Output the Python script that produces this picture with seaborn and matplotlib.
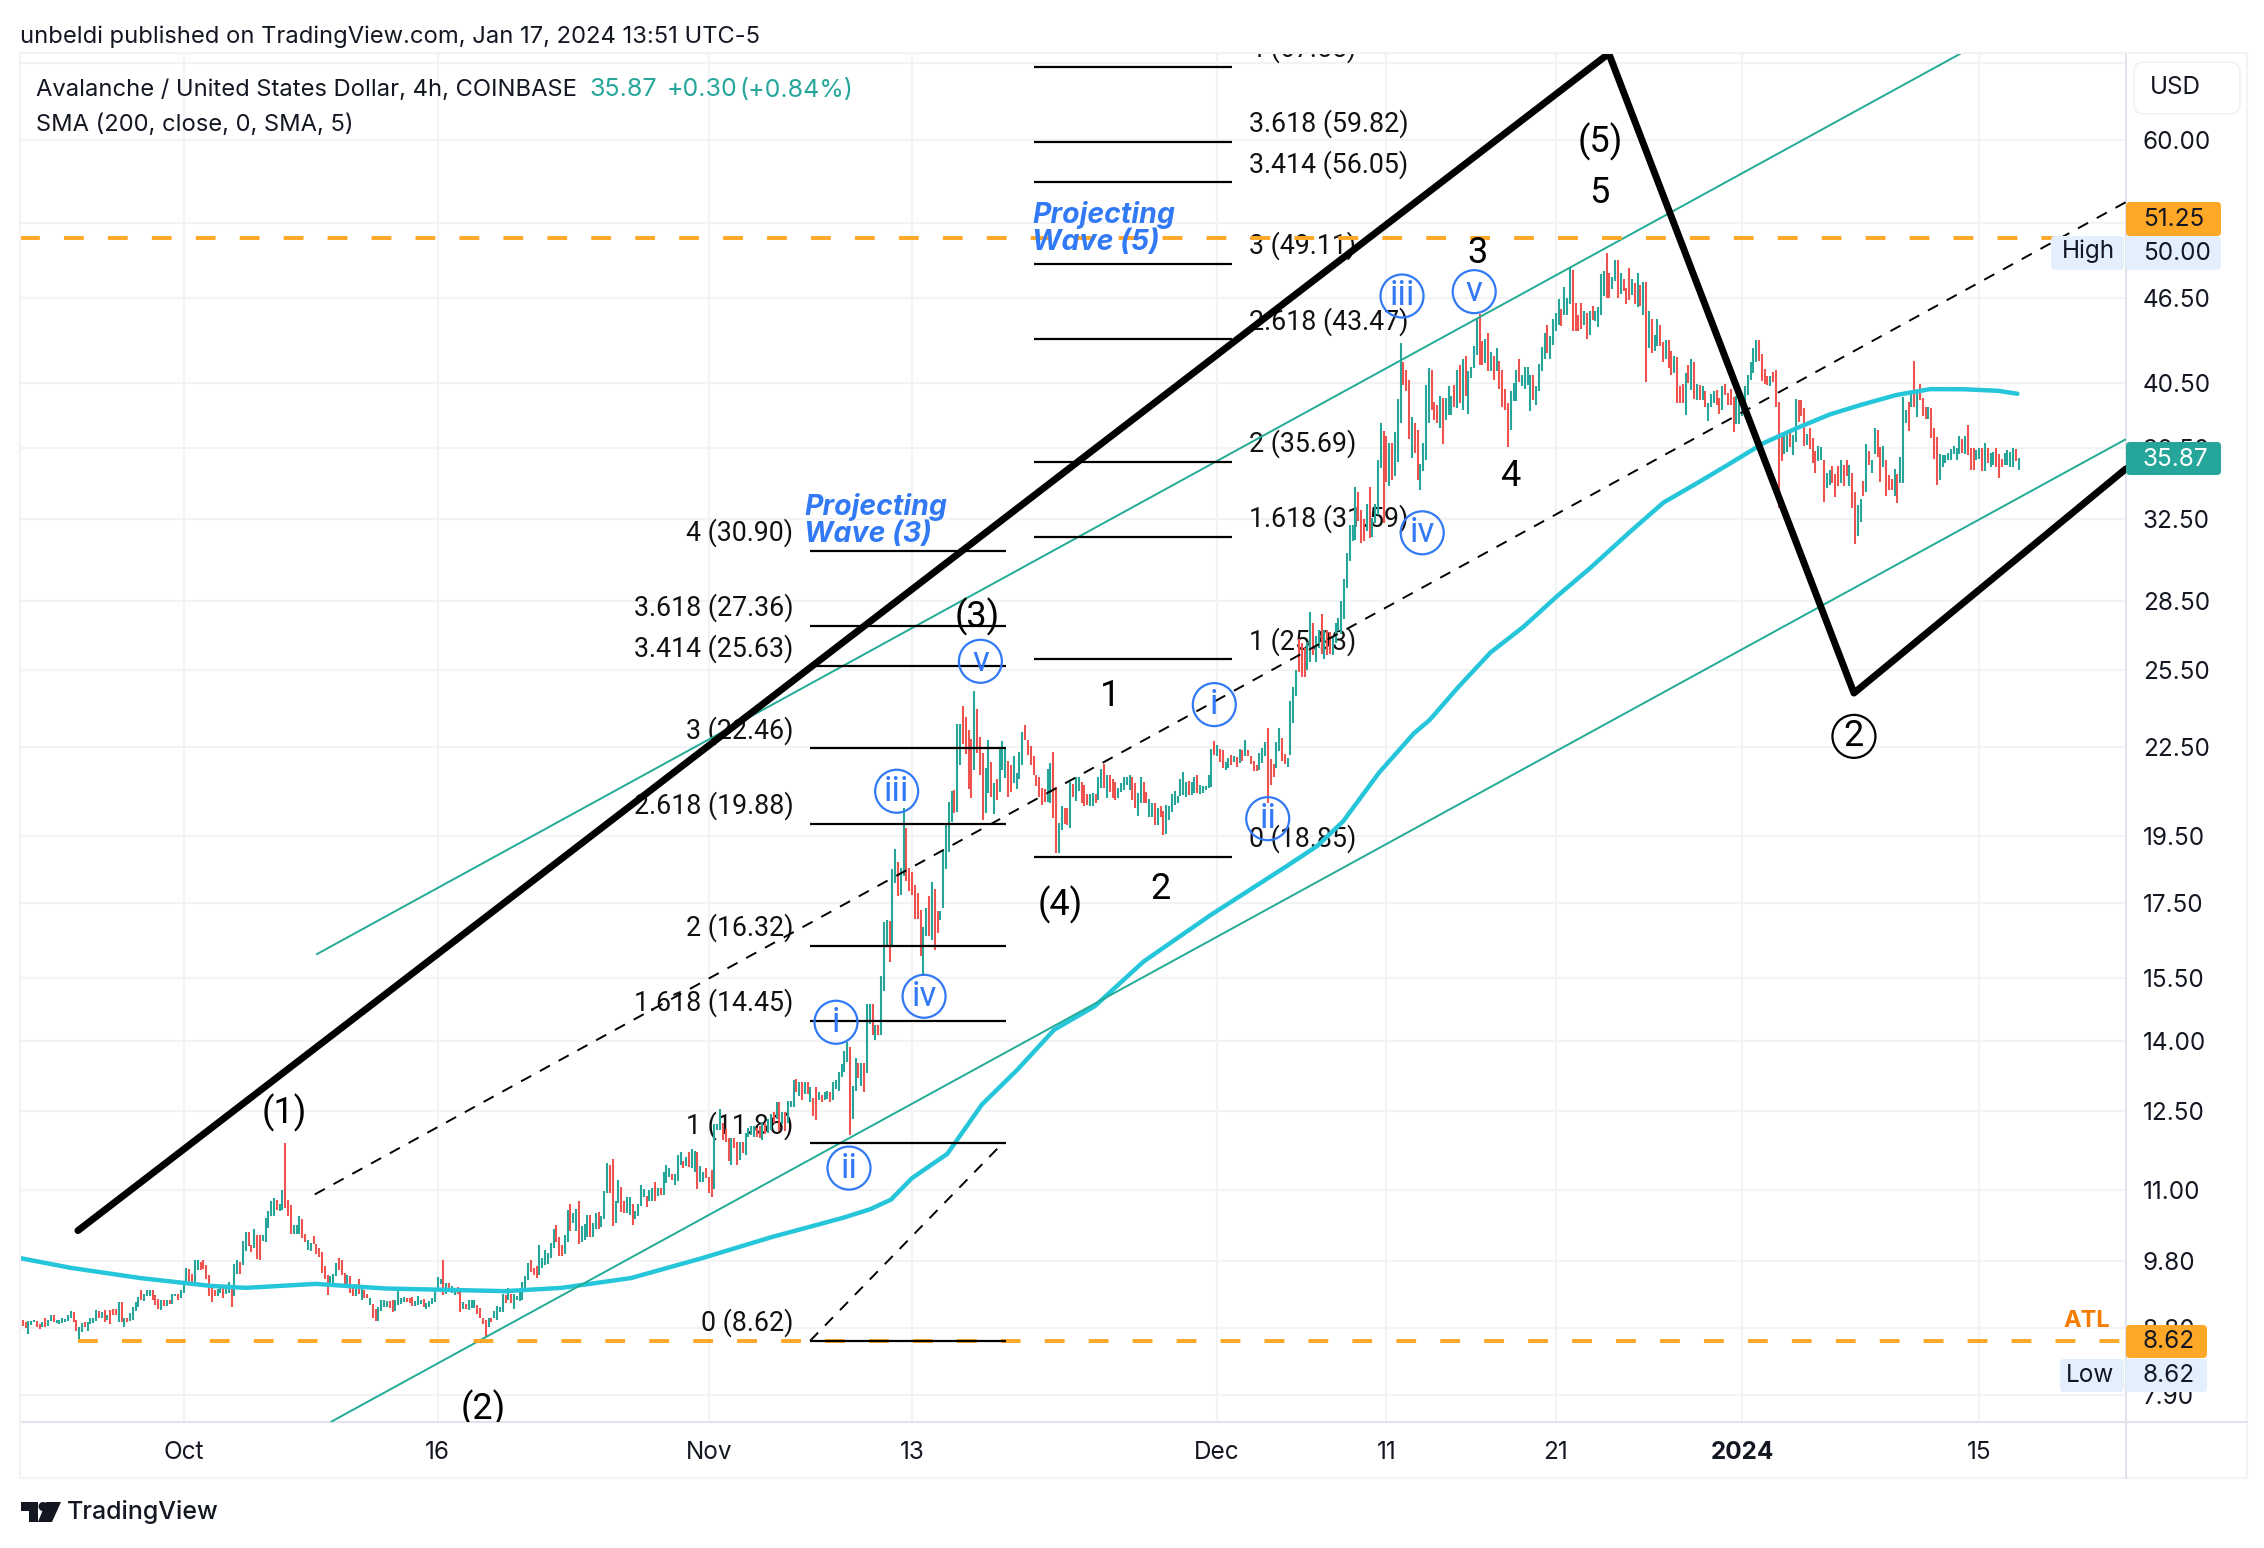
import numpy as np
import pandas as pd
import matplotlib
matplotlib.use("Agg")
import matplotlib.pyplot as plt
import seaborn as sns
from matplotlib.patches import Circle, FancyBboxPatch, Polygon
from matplotlib.lines import Line2D
from matplotlib.transforms import IdentityTransform

# ---------- DATA: AVAX/USD 4h bars, pairs (open, close) ----------
BARS_A = [8.82,8.89, 8.91,8.83, 8.88,8.80, 8.71,8.90, 8.84,8.90, 8.89,8.91, 8.90,8.82, 8.86,8.78, 8.81,8.89, 8.95,8.82,
 8.83,8.91, 8.90,8.98, 8.98,8.89, 8.87,8.91, 8.86,8.91, 8.87,8.94, 8.89,8.93, 8.90,8.98, 8.94,9.04, 9.03,8.88,
 8.91,8.76, 8.62,8.81, 8.75,8.87, 8.88,8.82, 8.76,8.89, 8.86,8.94, 8.87,8.95, 8.90,9.06, 9.04,8.94, 8.94,9.03,
 9.06,8.89, 8.91,8.99, 9.06,8.86, 9.07,8.99, 9.07,8.99, 8.88,9.18, 9.18,8.89, 8.82,8.95, 8.94,8.88, 8.90,9.02,
 8.92,9.10, 9.05,9.18, 9.11,9.25, 9.36,9.20, 9.19,9.30, 9.27,9.36, 9.27,9.36, 9.36,9.21, 9.28,9.13, 9.22,9.08,
 9.06,9.20, 9.21,9.12, 9.12,9.21, 9.21,9.15, 9.15,9.30, 9.26,9.30, 9.29,9.21, 9.23,9.36, 9.31,9.49, 9.47,9.70,
 9.68,9.47, 9.61,9.46, 9.47,9.82, 9.67,9.82, 9.79,9.67, 9.82,9.68, 9.74,9.52, 9.59,9.27, 9.39,9.18, 9.36,9.26,
 9.27,9.37, 9.31,9.44, 9.43,9.23, 9.29,9.41, 9.31,9.48, 9.44,9.11, 9.27,9.76, 9.60,9.82, 9.79,9.60, 9.74,10.13,
 9.97,10.28, 10.28,10.05, 10.06,9.95, 10.01,10.33, 10.22,9.84, 10.22,9.83, 10.13,10.22, 10.12,10.51, 10.34,10.63,
 10.55,10.80, 10.54,10.85, 10.83,10.65, 10.63,10.76, 10.65,11.00, 11.86,10.68, 10.83,10.54, 10.74,10.25, 10.25,10.40,
 10.25,10.40, 10.25,10.55, 10.50,10.17, 10.25,10.12, 9.98,10.14, 9.97,10.09, 10.21,10.08, 10.08,9.92, 10.01,9.87,
 9.95,9.62, 9.73,9.52, 9.58,9.28, 9.41,9.57, 9.46,9.61, 9.57,9.78, 9.86,9.67, 9.83,9.59, 9.62,9.43, 9.45,9.59,
 9.57,9.31, 9.39,9.26, 9.27,9.45, 9.52,9.29]
BARS_B = [9.21,9.39, 9.35,9.24, 9.29,9.23, 9.14,9.23, 9.15,8.95, 9.07,8.90, 8.90,9.11, 9.04,9.21, 9.10,9.20, 9.11,9.19,
 9.19,9.09, 9.20,9.03, 9.04,9.21, 9.14,9.35, 9.15,9.24, 9.18,9.25, 9.23,9.18, 9.23,9.16, 9.25,9.12, 9.12,9.19,
 9.13,9.27, 9.15,9.20, 9.22,9.11, 9.08,9.17, 9.10,9.19, 9.15,9.23, 9.18,9.39, 9.37,9.56, 9.45,9.53, 9.82,9.28,
 9.30,9.46, 9.47,9.34, 9.31,9.42, 9.28,9.39, 9.41,9.29, 9.32,9.03, 9.08,9.18, 9.15,9.08, 9.06,9.21, 9.09,9.21,
 9.09,9.21, 9.14,9.00, 9.09,8.95, 8.95,8.85, 8.92,8.67, 8.81,8.95, 8.95,8.88, 8.95,9.04, 8.92,9.12, 9.03,9.10,
 9.03,9.30, 9.28,9.17, 9.21,9.39, 9.30,9.17, 9.07,9.29, 9.21,9.26, 9.19,9.34, 9.21,9.48, 9.36,9.57, 9.51,9.77,
 9.82,9.63, 9.69,9.59, 9.72,9.54, 9.59,10.07, 9.69,9.85, 9.74,9.98, 9.76,9.93, 9.85,10.09, 10.01,10.32, 10.40,10.11,
 10.19,9.88, 10.07,9.88, 9.92,10.23, 10.12,10.65, 10.76,10.29, 10.42,10.60, 10.29,10.67, 10.81,10.08, 10.11,10.37,
 10.15,10.41, 10.20,10.57, 10.57,10.19, 10.19,10.43, 10.32,10.60, 10.62,10.33, 10.36,10.54, 10.49,10.98, 10.95,11.48,
 11.46,10.94, 11.57,10.38, 10.42,10.80, 10.77,11.18, 11.06,10.62, 10.80,10.60, 10.60,10.88, 10.57,10.88, 10.76,10.40,
 10.49,10.64, 10.55,10.76, 10.72,11.09, 10.88,11.02, 10.90,10.70, 10.80,10.99, 10.80,11.03, 11.15,10.81, 10.89,11.03,
 11.03,10.91, 10.91,11.33, 11.12,11.46, 11.23,11.40, 11.29,11.18, 11.08,11.29, 11.16,11.64, 11.46,11.69, 11.53,11.40,
 11.43,11.61, 11.69,11.41, 11.40,11.75, 11.33,11.72, 11.70,11.02, 11.15,11.43, 11.15,11.33, 11.40,11.22, 11.23,10.94]
BARS_C = [11.36,10.87, 11.02,12.24, 12.12,12.24, 12.12,12.53, 12.26,11.92, 12.14,11.89, 11.96,11.52, 11.46,11.96, 11.96,11.77,
 11.89,11.46, 11.55,11.89, 11.89,11.67, 11.64,12.05, 11.99,12.16, 12.02,12.19, 11.99,12.19, 12.16,11.99, 12.19,11.96,
 11.92,12.26, 12.26,12.04, 12.05,12.33, 12.12,12.43, 12.47,12.26, 12.33,12.67, 12.67,12.09, 12.23,12.47, 12.47,12.09,
 12.26,12.70, 12.57,12.70, 12.57,13.13, 13.15,12.88, 12.81,13.09, 13.09,12.71, 12.85,13.09, 13.09,12.85, 12.67,12.98,
 12.77,12.40, 12.98,12.31, 12.71,12.89, 12.82,12.67, 12.71,12.89, 12.74,12.91, 12.88,12.68, 12.71,13.09, 12.95,13.13,
 12.91,13.31, 13.20,13.49, 13.31,13.76, 13.53,13.96, 13.85,12.02, 12.33,13.01, 12.91,13.61, 13.50,13.17, 13.02,13.50,
 13.50,12.89, 13.29,14.86, 14.39,14.86, 14.86,14.13, 14.02,14.37, 14.37,14.13, 14.14,15.53, 15.16,16.96, 16.33,17.01,
 16.99,15.89, 16.29,18.49, 18.06,19.07, 18.69,17.68, 17.72,18.51, 18.27,20.39, 19.74,18.11, 18.51,17.82, 18.39,17.72,
 18.01,17.03, 17.76,17.03, 17.30,16.06, 15.55,16.83, 16.57,17.34, 17.68,16.57, 16.47,18.08, 17.89,16.20, 17.27,16.65,
 17.01,17.27, 17.34,19.02, 18.47,19.88, 18.99,20.59, 19.93,20.96, 20.98,20.22, 20.25,23.36, 21.87,23.36, 24.05,22.62,
 23.60,22.24, 23.14,21.02, 22.79,20.73]
BARS_D = [21.69,24.64, 23.92,22.28, 22.88,21.49, 22.28,20.00, 20.22,21.74, 20.88,22.76, 21.98,20.77, 20.20,21.24, 21.37,20.66,
 20.93,22.44, 21.69,22.72, 21.39,22.44, 22.00,20.77, 21.84,20.93, 21.22,22.16, 21.04,21.57, 21.37,22.32, 21.86,23.04,
 23.30,22.76, 22.76,22.22, 22.54,21.86, 22.16,21.49, 21.50,21.14, 21.45,20.77, 21.05,20.48, 21.03,20.58, 20.58,21.71,
 20.55,21.92, 22.32,20.05, 21.08,18.95, 18.95,19.90, 19.69,20.44, 20.38,19.87, 20.38,19.84, 19.74,21.27, 21.19,20.75,
 20.63,21.45, 20.95,21.45, 21.27,20.55, 21.16,20.47, 20.86,20.50, 20.44,20.86, 20.47,20.88, 20.85,20.55, 20.66,21.45,
 21.05,21.72, 21.90,21.05, 20.71,21.50, 21.50,20.93, 21.36,20.71, 21.28,20.66, 20.71,21.05, 20.93,21.24, 20.99,21.42,
 21.16,21.45, 20.99,21.50, 21.43,20.66, 21.22,20.38, 20.14,20.88, 20.55,21.43, 21.27,20.55, 20.93,20.55, 20.09,20.69,
 20.09,20.55, 20.55,19.84, 19.84,20.38, 20.47,20.09, 20.30,19.53, 19.56,20.50, 20.00,20.46, 20.27,20.86, 20.50,20.97,
 20.55,20.79, 20.79,21.36, 20.82,21.60, 20.77,21.27, 21.30,20.82, 20.82,21.27, 20.88,21.45, 21.49,20.88, 20.86,21.16,
 20.90,21.14, 21.00,21.13, 21.05,21.50, 21.10,22.42, 22.72,22.22, 22.16,22.57, 22.42,21.98, 22.40,21.74, 21.69,21.98,
 21.74,22.10, 22.22,21.86, 21.98,22.16, 22.13,21.80, 21.92,22.42, 22.40,22.00, 22.16,22.76, 22.40,22.16, 22.18,21.90,
 22.00,21.63, 21.86,21.63, 21.69,22.28, 21.92,22.46, 22.16,22.70, 23.20,20.57, 22.06,21.16, 21.90,21.43, 21.74,22.70,
 22.37,23.20, 22.84,22.00, 22.25,21.90, 21.80,22.10, 22.22,24.24, 23.38,24.80]
BARS_E = [24.45,25.50, 26.80,25.40, 26.60,25.20, 26.40,25.20, 25.50,26.65, 25.80,28.00, 27.50,26.10, 25.80,26.90, 26.40,27.20,
 27.90,26.15, 25.95,27.20, 27.20,26.10, 27.10,26.15, 26.10,26.90, 26.60,27.50, 27.15,27.70, 27.00,28.50, 27.65,29.50,
 29.10,30.80, 30.40,32.20, 31.40,32.20, 31.45,34.25, 34.00,32.40, 33.00,31.30, 32.55,31.40, 31.90,33.30, 34.25,31.55,
 31.60,32.60, 32.30,33.30, 32.75,35.80, 35.30,38.00, 37.50,32.30, 37.20,34.55, 34.30,36.80, 36.80,34.65, 34.85,37.45,
 35.65,39.50, 38.00,43.20, 41.90,40.40, 41.35,40.00, 40.70,37.00, 35.90,38.35, 38.00,36.20, 37.55,34.65, 34.10,35.55,
 35.15,36.80, 35.80,40.40, 38.00,41.50, 41.40,38.80, 39.30,38.15, 39.10,38.00, 37.65,39.65, 39.55,36.70, 38.15,39.55,
 38.45,40.30, 38.45,39.65, 40.40,39.00, 38.90,41.40, 41.70,39.20, 38.80,42.15, 42.30,39.65, 38.55,41.30, 40.85,41.60,
 41.50,43.00, 42.40,44.90, 45.30,41.70, 43.35,41.70, 41.85,43.50, 43.90,41.30, 41.30,42.60, 42.30,40.70, 41.30,42.85,
 42.00,40.15, 41.40,39.00, 40.10,38.80, 39.20,36.55, 37.55,40.00, 39.35,40.50, 39.35,41.40, 42.10,40.60, 40.30,41.05,
 40.15,41.60, 40.40,41.55, 38.75,41.05, 41.05,39.45, 39.10,40.35, 40.00,41.80, 41.30,42.95, 42.15,43.90, 44.50,42.50,
 42.15,43.70, 43.05,44.90, 44.05,45.35, 44.50,46.40, 45.65,44.40, 45.20,47.35, 45.20,46.45, 46.00,48.80, 48.60,44.10,
 46.10,44.10, 45.20,44.10, 46.10,44.20, 44.50,45.50, 45.35,43.50, 43.80,45.50, 45.90,44.85, 44.80,45.50, 44.35,45.80,
 45.20,48.30, 46.60,48.55, 49.95,46.45, 48.40,46.50, 47.15,48.10, 47.80,49.45, 49.45,46.50, 46.75,48.40, 47.90,47.00,
 47.25,46.05, 47.00,48.80]
BARS_F = [48.80,46.30, 46.70,47.90, 47.60,46.00, 45.80,48.40, 47.50,45.90, 45.20,47.70, 47.70,40.60, 42.90,45.50, 44.90,42.50,
 42.70,43.80, 43.00,44.90, 44.50,43.00, 43.30,41.90, 42.15,43.40, 43.40,41.50, 42.65,41.05, 41.15,42.30, 42.25,39.25,
 40.35,39.25, 40.45,39.25, 38.50,41.15, 41.70,40.55, 40.05,42.10, 41.95,39.50, 39.45,40.45, 40.40,39.45, 39.45,40.30,
 40.00,39.00, 38.10,39.20, 38.95,39.80, 39.25,40.00, 40.05,39.10, 39.55,38.55, 38.80,40.30, 40.45,39.75, 39.85,39.10,
 40.15,39.10, 39.60,37.45, 37.95,39.65, 37.95,39.45, 38.40,39.90, 39.25,40.30, 39.75,41.05, 40.70,41.95, 41.20,42.85,
 41.95,43.40, 43.45,42.00, 42.45,40.65, 41.45,40.45, 41.00,40.40, 40.30,40.95, 41.25,40.60, 41.40,39.00, 39.30,33.10,
 37.25,35.70, 36.10,37.40, 36.25,37.25, 37.35,36.55, 36.05,37.25, 36.85,39.50, 39.45,38.05, 39.45,38.40, 38.90,36.60,
 36.65,37.30, 37.70,36.40, 37.05,35.60, 36.30,35.05, 35.70,36.60, 35.80,36.55, 35.75,33.45, 34.20,35.05, 34.35,35.20,
 35.45,34.45, 34.95,33.70, 35.45,34.30, 34.45,35.80, 35.50,34.30, 35.75,34.85, 34.30,35.50, 35.05,33.10, 34.00,31.25,
 31.65,33.25, 32.35,33.60, 34.60,33.75, 33.95,36.70, 36.30,35.50, 35.05,35.80, 36.15,37.65, 37.55,35.95, 36.55,34.55,
 35.40,36.60, 35.80,33.75, 34.90,34.10, 34.70,34.10, 33.75,35.25, 35.00,33.35, 34.45,35.95, 34.50,39.60, 38.00,38.80,
 39.30,37.50, 39.00,39.80, 42.00,39.00, 38.35,39.95, 40.45,39.45, 39.55,38.40, 39.00,38.25, 38.25,38.95, 38.90,37.10,
 37.70,35.85, 37.15,34.35, 34.65,36.15, 35.35,36.05, 35.60,36.05, 35.75,36.20, 35.80,36.40, 36.15,36.60, 35.80,36.50,
 36.15,37.20, 37.00,36.20, 36.10,37.20, 37.85,36.05, 36.45,35.20, 36.45,35.20, 35.80,36.35, 35.85,36.45, 36.45,35.15,
 35.15,36.75, 36.45,35.60, 35.35,36.20, 35.50,36.25, 36.45,35.40, 36.15,34.75, 35.85,35.35, 35.50,36.20, 35.50,36.35,
 35.40,36.25, 35.35,36.45, 36.40,35.70, 35.20,35.90]
SEGMENTS = [BARS_A, BARS_B, BARS_C, BARS_D, BARS_E, BARS_F]
SEGMENT_START_DAY = [-9.667, 10.5, 31.17, 46.67, 65.67, 85.33]  # days after 2023-10-01

SMA_DAY = [-9.61,-6.70,-2.57,1.58,3.65,7.80,11.92,18.99,22.32,26.41,30.59,34.68,38.86,40.51,41.76,42.99,45.08,47.13,49.22,51.39,
           53.78,56.67,60.59,65.11,66.90,68.44,70.57,72.62,73.56,75.18,77.14,79.10,81.06,83.02,85.41,87.37,89.33,91.29,93.25,
           95.21,97.17,99.14,101.1,103.1,105.1,107.1,108.25]
SMA_VAL = [9.85,9.70,9.54,9.42,9.39,9.45,9.38,9.34,9.39,9.54,9.85,10.19,10.51,10.66,10.83,11.21,11.66,12.63,13.36,14.25,
           14.80,15.91,17.14,18.56,19.17,19.95,21.59,23.00,23.51,24.74,26.21,27.33,28.70,30.04,31.88,33.41,34.46,35.58,36.76,
           37.66,38.51,39.15,39.74,40.12,40.11,40.01,39.82]

WAVE_DAY = [-6.24, 84.13, 98.6, 114.65]
WAVE_VAL = [10.30, 69.0, 24.55, 35.27]
CHANNEL_UP_DAY = [7.82, 104.9];   CHANNEL_UP_VAL = [16.09, 69.0]
CHANNEL_LOW_DAY = [8.68, 114.65]; CHANNEL_LOW_VAL = [7.56, 37.0]
CHANNEL_MID_DAY = [7.74, 114.65]; CHANNEL_MID_VAL = [10.92, 54.27]
FIB_TREND_DAY = [36.98, 48.4];    FIB_TREND_VAL = [8.62, 11.88]

FIB_LEFT_VAL = [30.90, 27.36, 25.63, 22.46, 19.88, 16.32, 14.45, 11.86, 8.62]
FIB_LEFT_TXT = ["4 (30.90)", "3.618 (27.36)", "3.414 (25.63)", "3 (22.46)", "2.618 (19.88)",
                "2 (16.32)", "1.618 (14.45)", "1 (11.86)", "0 (8.62)"]
FIB_LEFT_DAY = [37.0, 48.56]
FIB_RIGHT_VAL = [67.55, 59.82, 56.05, 49.11, 43.47, 35.69, 31.59, 25.93, 18.85]
FIB_RIGHT_TXT = ["4 (67.55)", "3.618 (59.82)", "3.414 (56.05)", "3 (49.11)", "2.618 (43.47)",
                 "2 (35.69)", "1.618 (31.59)", "1 (25.93)", "0 (18.85)"]
FIB_RIGHT_DAY = [50.2, 61.88]

ATH_LEVEL = 51.25
ATL_LEVEL = 8.62
PRICE_TICKS = [68.0, 60.0, 52.5, 46.5, 40.5, 36.5, 32.5, 28.5, 25.5, 22.5, 19.5, 17.5, 15.5, 14.0, 12.5, 11.0, 9.8, 8.8, 7.9]
DATE_TICKS = ["2023-10-01", "2023-10-16", "2023-11-01", "2023-11-13", "2023-12-01", "2023-12-11", "2023-12-21", "2024-01-01", "2024-01-15"]
DATE_LABELS = ["Oct", "16", "Nov", "13", "Dec", "11", "21", "2024", "15"]

WAVE_TEXT = ["(1)", "(2)", "(3)", "(4)", "(5)", "5", "3", "4", "1", "2"]
WAVE_TEXT_AT = [(197,771), (335,976), (677,427), (734,627), (1108,98), (1108,134), (1023,175), (1046,330), (769,482), (804,616)]
CIRCLE_TEXT = ["i", "ii", "iii", "iv", "v", "i", "ii", "iii", "iv", "v"]
CIRCLE_AT = [(579,708), (588,809), (621,548), (640,690), (679,458), (841,488), (878,567), (971,205), (985,369), (1021,202)]

# ---------- STYLE ----------
GREEN, RED, TEAL = "#26a69a", "#ef5350", "#22ab94"
CYAN, ORANGE, BLUE = "#26c6da", "#ffa726", "#3179f5"
GRID, AXIS, INK = "#f3f3f5", "#e0e3eb", "#131722"
sns.set_theme(style="white")
plt.rcParams["font.family"] = ["Inter", "DejaVu Sans"]
W, H = 2264, 1548
K = W / 1568
BASE = pd.Timestamp("2023-10-01")
def when(days):
    return BASE + pd.to_timedelta(np.asarray(days, dtype=float), unit="D")
def fx(x, y):
    return (x / 1568, 1 - y * K / H)

fig = plt.figure(figsize=(W / 100, H / 100), dpi=100, facecolor="white")
ax = fig.add_axes([20 / W, 1 - 1422 / H, 2106 / W, 1369 / H])

# price bars
for bars, start in zip(SEGMENTS, SEGMENT_START_DAY):
    o = np.array(bars[0::2]); c = np.array(bars[1::2])
    t = when(start + np.arange(len(o)) / 6)
    ax.vlines(t, np.minimum(o, c), np.maximum(o, c), colors=np.where(c >= o, GREEN, RED),
              linewidth=1.5, zorder=3, capstyle="butt")

def draw(days, vals, color, lw, z, dash=None, cap="butt"):
    sns.lineplot(x=when(days), y=vals, color=color, linewidth=lw, ax=ax, sort=False,
                 estimator=None, errorbar=None, legend=False, zorder=z)
    ln = ax.lines[-1]
    if dash:
        ln.set_linestyle((0, dash))
    ln.set_solid_capstyle(cap)
    ln.set_solid_joinstyle("miter" if cap == "butt" else "round")

draw(SMA_DAY, SMA_VAL, CYAN, 3.2, 4, cap="round")
draw(CHANNEL_UP_DAY, CHANNEL_UP_VAL, TEAL, 1.4, 5)
draw(CHANNEL_LOW_DAY, CHANNEL_LOW_VAL, TEAL, 1.4, 5)
draw(CHANNEL_MID_DAY, CHANNEL_MID_VAL, "black", 1.4, 5, dash=(5.9, 5.1))
draw(FIB_TREND_DAY, FIB_TREND_VAL, "black", 1.4, 5, dash=(5.9, 5.1))
draw([-9.66, 114.66], [ATH_LEVEL, ATH_LEVEL], ORANGE, 2.8, 5, dash=(5.1, 6.2))
draw([-6.24, 114.66], [ATL_LEVEL, ATL_LEVEL], ORANGE, 2.8, 5, dash=(5.1, 6.2))
for v in FIB_LEFT_VAL:
    draw(FIB_LEFT_DAY, [v, v], "black", 1.6, 5)
for v in FIB_RIGHT_VAL:
    draw(FIB_RIGHT_DAY, [v, v], "black", 1.6, 5)
draw(WAVE_DAY, WAVE_VAL, "black", 5.0, 6, cap="round")

ax.set_yscale("log")
ax.set_xlim(when(-9.66), when(114.66))
ax.set_ylim(7.56, 69.06)
ax.yaxis.tick_right()
ax.minorticks_off()
ax.set_yticks(PRICE_TICKS)
ax.set_yticks([], minor=True)
ax.set_yticklabels(["" if p == 68.0 else f"{p:.2f}" for p in PRICE_TICKS], fontsize=17.5, color=INK)
ax.set_xticks(pd.to_datetime(DATE_TICKS))
ax.set_xticklabels(DATE_LABELS, fontsize=17.5, color=INK)
ax.get_xticklabels()[7].set_fontweight("bold")
ax.tick_params(axis="y", length=0, pad=12, labelright=True, labelleft=False)
ax.tick_params(axis="x", length=0, pad=14)
ax.set_xlabel(""); ax.set_ylabel("")
ax.grid(True, which="major", color=GRID, linewidth=1.5, zorder=0)
ax.set_axisbelow(True)
for side in ax.spines:
    ax.spines[side].set_color(AXIS)
    ax.spines[side].set_linewidth(1.5)
ax.spines["top"].set_color(GRID)
ax.spines["left"].set_color(GRID)

# fibonacci labels
for v, s in zip(FIB_LEFT_VAL, FIB_LEFT_TXT):
    ax.annotate(s, xy=(when(FIB_LEFT_DAY[0]), v), xytext=(-17, 18), textcoords="offset pixels", ha="right", va="center",
                fontsize=19.3, family="Roboto", color="#111111", zorder=2, annotation_clip=False, clip_on=True)
for v, s in zip(FIB_RIGHT_VAL, FIB_RIGHT_TXT):
    ax.annotate(s, xy=(when(FIB_RIGHT_DAY[1]), v), xytext=(17, 18), textcoords="offset pixels", ha="left", va="center",
                fontsize=19.3, family="Roboto", color="#111111", zorder=2, annotation_clip=False, clip_on=True)

# wave labels
for s, (x, y) in zip(WAVE_TEXT, WAVE_TEXT_AT):
    X, Y = fx(x, y)
    ax.text(X, Y, s, transform=fig.transFigure, ha="center", va="center", fontsize=26, family="Roboto",
            color="black", zorder=7, clip_on=True)
for s, (x, y) in zip(CIRCLE_TEXT, CIRCLE_AT):
    X, Y = fx(x, y)
    ax.text(X, Y, s, transform=fig.transFigure, ha="center", va="center", fontsize=25, family="Roboto",
            color=BLUE, zorder=7, clip_on=True)
    fig.add_artist(Circle((x * K, H - y * K), 21.5, transform=IdentityTransform(), fill=False, ec=BLUE, lw=1.6))
X, Y = fx(1284, 510)
ax.text(X, Y, "2", transform=fig.transFigure, ha="center", va="center", fontsize=26, family="Roboto", color="black", zorder=7)
fig.add_artist(Circle((1284 * K, H - 510 * K), 21.5, transform=IdentityTransform(), fill=False, ec="black", lw=1.6))
for s, x, y in [("Projecting", 557, 351), ("Wave (3)", 557, 370), ("Projecting", 715, 149), ("Wave (5)", 715, 168)]:
    X, Y = fx(x, y)
    ax.text(X, Y, s, transform=fig.transFigure, ha="left", va="center", fontsize=20.5, family="Inter",
            style="italic", weight="bold", color=BLUE, zorder=7)
X, Y = fx(1445, 915)
ax.text(X, Y, "ATL", transform=fig.transFigure, ha="center", va="center", fontsize=17, weight="bold", color="#f57c00", zorder=7)

# frame and price-scale tags (figure pixels)
def box(x0, y0, x1, y1, fc, ec="none", r=4, z=2):
    fig.add_artist(FancyBboxPatch((x0, H - y1), x1 - x0, y1 - y0, boxstyle=f"round,pad=0,rounding_size={r}",
                                  transform=IdentityTransform(), fc=fc, ec=ec, lw=1.4, zorder=z))
def tag(x, y, s, color=INK, size=17.5, ha="left", weight="normal"):
    fig.text(x / W, 1 - y / H, s, ha=ha, va="center", fontsize=size, color=color, weight=weight, zorder=4)
fig.add_artist(Line2D([20, 2247, 2247, 20, 20], [H - 53, H - 53, H - 1478, H - 1478, H - 53],
                      transform=IdentityTransform(), color=GRID, lw=1.5))
fig.add_artist(Line2D([2126, 2247], [H - 1422, H - 1422], transform=IdentityTransform(), color=AXIS, lw=1.5))
fig.add_artist(Line2D([2126, 2126], [H - 1422, H - 1478], transform=IdentityTransform(), color=AXIS, lw=1.5))
box(2134, 62, 2240, 114, "white", ec=GRID, r=10)
tag(2175, 88, "USD", ha="center")
box(2126, 202, 2221, 236, ORANGE)
tag(2143, 219, "51.25", color="#131722")
box(2051, 236, 2124, 270, "#e3effd"); box(2126, 236, 2221, 270, "#e3effd")
tag(2088, 251, "High", ha="center"); tag(2143, 253, "50.00")
box(2126, 442, 2221, 475, GREEN)
tag(2143, 459, "35.87", color="white")
box(2126, 1325, 2207, 1358, ORANGE)
tag(2143, 1341, "8.62", color="#131722")
box(2060, 1359, 2124, 1392, "#e3effd"); box(2126, 1359, 2207, 1392, "#e3effd")
tag(2090, 1375, "Low", ha="center"); tag(2143, 1375, "8.62")

# header
tag(20, 37, "unbeldi published on TradingView.com, Jan 17, 2024 13:51 UTC-5", size=17.1)
tag(36, 90, "Avalanche / United States Dollar, 4h, COINBASE", size=17.1)
tag(589, 90, "35.87", color=GREEN, size=18)
tag(667, 90, "+0.30", color=GREEN, size=18)
tag(739, 90, "(+0.84%)", color=GREEN, size=18)
tag(36, 125, "SMA (200, close, 0, SMA, 5)", size=17.1)

# TradingView mark
for poly in ([(21,1502),(38,1502),(38,1522),(29,1522),(29,1511),(21,1511)],
             [(46,1502),(61,1502),(52,1522),(38,1522)]):
    fig.add_artist(Polygon([(a, H - b) for a, b in poly], transform=IdentityTransform(), fc=INK, ec="none"))
fig.add_artist(Circle((43, H - 1506.5), 4.5, transform=IdentityTransform(), fc=INK, ec="none"))
tag(67, 1512, "TradingView", size=18, weight="medium")

fig.savefig("out.png", dpi=100, facecolor="white")
